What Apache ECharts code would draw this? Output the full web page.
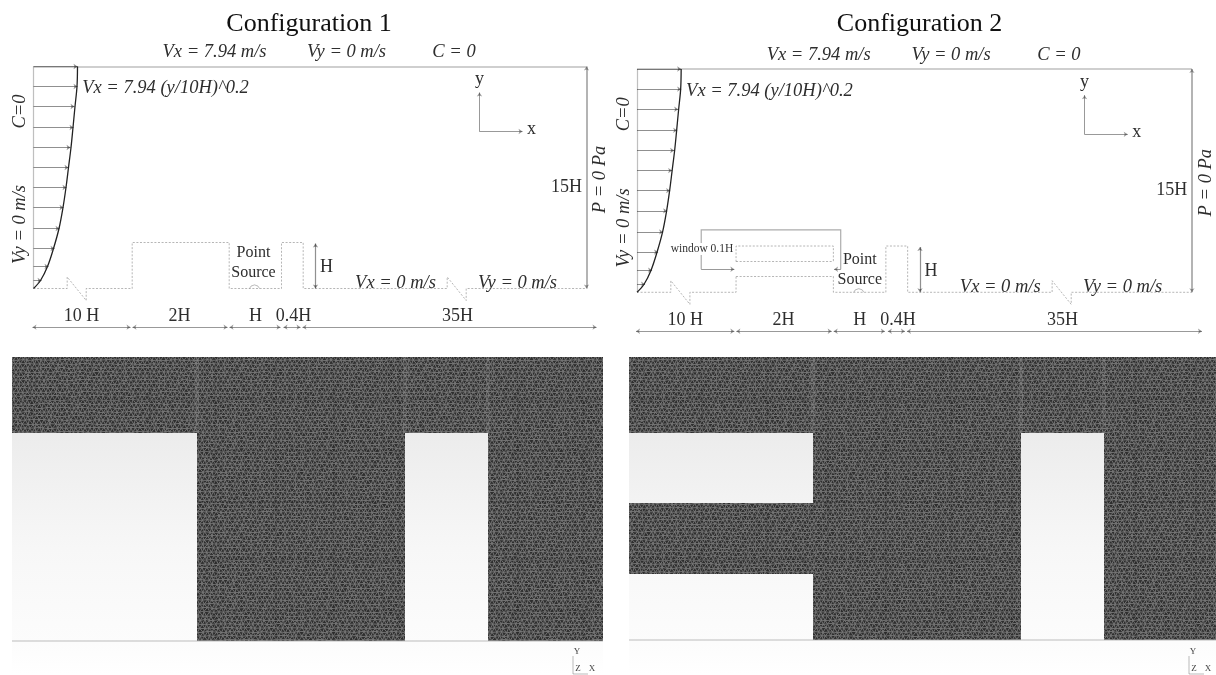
<!DOCTYPE html>
<html><head><meta charset="utf-8">
<style>html,body{margin:0;padding:0;background:#fff}#c{width:1216px;height:675px}</style>
<script src="https://cdn.jsdelivr.net/npm/echarts@6/dist/echarts.min.js"></script>
</head><body><div id="c"></div>
<script>
// ---- schematic geometry (panel units) ----
const wallTop = [[33,66],[586,66]];
const wallLeft = [[33,66],[33,288]];
const wallRight = [[586,66],[586,288]];
const profile = [[77,66],[76.5,86],[74.5,106],[72.5,127],[70.5,147],[68,167],[65.5,187],[62.5,207],[58.5,228],[53,248],[47,266],[40,280],[33,288]];
const inflowY = [66,86,106,127,147,167,187,207,228,248,266,280];
const inflowTip = [77,77,74,73,70,68,66,63,59,54,48,41];
const floorPath1 = [[[33,288],[66.7,288],[66.7,276.5],[85.7,300],[85.7,288],[131.7,288],[131.7,242],[228.7,242],[228.7,288],[281,288],[281,242],[302.7,242],[302.7,288],[446.7,288],[446.7,276.5],[465.7,300],[465.7,288],[586,288]]];
const floorPath2 = [
  [[33,288],[66.7,288],[66.7,276.5],[85.7,300],[85.7,288],[131.7,288],[131.7,272.1]],
  [[131.7,257.6],[131.7,242],[228.7,242],[228.7,257.6]],
  [[228.7,272.1],[228.7,288],[281,288],[281,242],[302.7,242],[302.7,288],[446.7,288],[446.7,276.5],[465.7,300],[465.7,288],[586,288]]
];
const sourceArc = [[249,288],[250.5,285.6],[254,284.4],[257.5,285.6],[259,288]];
const dimSpans = [[32,130],[132,227],[229,280],[283,300],[302,596]];
const dimY = 326.7;
const heightDim = [[315,243],[315,288]];
const axisY = [[479,131],[479,92]];
const axisX = [[479,131],[522,131]];
const labels = [
  ['Vx = 7.94 m/s',214,52,18.5,1,0],['Vy = 0 m/s',346,52,18.5,1,0],['C = 0',453.5,52,18.5,1,0],
  ['Vx = 7.94 (y/10H)^0.2',165,88,18.5,1,0],['Vy = 0 m/s',20,224,18.5,1,90],['C=0',20,111,18.5,1,90],
  ['10 H',81,316,18,0,0],['2H',179,316,18,0,0],['H',255,316,18,0,0],['0.4H',293,316,18,0,0],['35H',457,316,18,0,0],
  ['H',326,267,18,0,0],['15H',566,187,18,0,0],['P = 0 Pa',600,179,18.5,1,90],['y',479,79,18,0,0],['x',531,129,18,0,0],
  ['Vx = 0 m/s',395,283,18.5,1,0],['Vy = 0 m/s',517,283,18.5,1,0]
];
const titles = ['Configuration 1','Configuration 2'];
const titleX = [308.5,314.5];
const titleY = [24,21.3];
const pointSource = [[253,252,272],[255,255.9,275.7]];
// configuration 2 only (panel units of that panel)
const windowBracket = [[97,265.1],[97,226],[236,226],[236,265.1]];
const bracketTips = [[[97,265.1],[130,265.1]],[[236,265.1],[229.4,265.1]]];
const windowEdges = [[[131.7,257.6],[228.7,257.6]],[[131.7,272.1],[228.7,272.1]]];
const windowLabel = ['window 0.1H',97.7,244.9,11.5];
// ---- mesh views (page pixels) ----
const meshRects = [[12,357,603,433],[197,433,405,641],[488,433,603,641],
  [629,357,1216,433],[813,433,1021,640],[1104,433,1216,640],[629,503,813,574]];
const seams = [[197,357,433],[405,357,433],[488,357,433],[813,357,433],[1021,357,433],[1104,357,433]];
const viewRects = [[12,357,603,675],[629,357,1216,675]];
const floors = [[[12,641],[603,641]],[[629,640],[1216,640]]];
const triads = [[573,656,573,674,588,674],[1189,656,1189,674,1204,674]];
const triadText = [['Y',577,652],['Z',578,669],['X',592,669],['Y',1193,652],['Z',1194,669],['X',1208,669]];

// --- mesh texture tile: jittered triangular lattice (deterministic) ---
function meshTile(){
  const a=4.6,h=4.0,nx=40,ny=40;
  const cv=document.createElement('canvas');cv.width=Math.round(a*nx);cv.height=Math.round(h*ny);
  const W=cv.width,H=cv.height,ax=W/nx,ay=H/ny,c=cv.getContext('2d');
  const hs=(i,j,k)=>{const s=Math.sin(((i+nx)%nx)*12.9898+((j+ny)%ny)*78.233+k*37.719)*43758.5453;return s-Math.floor(s);};
  const P=(i,j)=>[i*ax+(((j%2)+2)%2)*ax/2+(hs(i,j,1)-.5)*1.7,j*ay+(hs(i,j,2)-.5)*1.5];
  c.fillStyle='#2e2e2e';c.fillRect(0,0,W,H);
  c.strokeStyle='#7a7a7a';c.lineWidth=.9;
  for(let j=-1;j<=ny;j++)for(let i=-1;i<=nx;i++){
    const p=P(i,j),q=P(i+1,j),odd=((j%2)+2)%2,r=P(i+odd,j+1),s=P(i+odd-1,j+1);
    c.beginPath();c.moveTo(p[0],p[1]);c.lineTo(q[0],q[1]);c.moveTo(p[0],p[1]);c.lineTo(r[0],r[1]);c.moveTo(p[0],p[1]);c.lineTo(s[0],s[1]);c.stroke();
  }
  c.strokeStyle='rgba(20,20,20,.2)';c.lineWidth=1;
  [31,92,150].forEach(x=>{c.beginPath();c.moveTo(x,0);c.lineTo(x,H);c.stroke();});
  [22,80,131].forEach(y=>{c.beginPath();c.moveTo(0,y);c.lineTo(W,y);c.stroke();});
  return cv;
}
const tile = meshTile();
const ink='#2e2e2e', wallGray='#808080', dash='#6e6e6e';

function seg(coords,color,width,type,sym,size){return {coords:coords,lineStyle:{color:color,width:width,type:type||'solid'},symbol:sym||['none','none'],symbolSize:size||6};}
function linesSeries(i,list){
  return list.map(l=>({type:'lines',coordinateSystem:'cartesian2d',xAxisIndex:i,yAxisIndex:i,polyline:l.coords.length>2,silent:true,z:4,
    symbol:l.symbol,symbolSize:l.symbolSize,lineStyle:l.lineStyle,data:[{coords:l.coords}]}));
}
function textSeries(i,rows){
  return {type:'custom',coordinateSystem:'cartesian2d',xAxisIndex:i,yAxisIndex:i,silent:true,z:6,clip:false,
    data:rows.map((r,k)=>[r[1],r[2],k]),encode:{x:0,y:1},
    renderItem:(p,api)=>{const r=rows[api.value(2)],pt=api.coord([api.value(0),api.value(1)]);
      return {type:'text',x:pt[0],y:pt[1],rotation:(r[5]||0)*Math.PI/180,
        style:{text:r[0],x:0,y:0,align:'center',verticalAlign:'middle',fill:r[6]||ink,backgroundColor:r[7]||undefined,
          font:(r[4]?'italic ':'')+r[3]+'px "Liberation Serif","Times New Roman",serif'}};}};
}
function panelSeries(i){
  const arrowBoth=['arrow','arrow'],arrowEnd=['none','arrow'],dotted=[2,1.6];
  const list=[
    seg(wallTop,wallGray,1.6),seg(wallLeft,wallGray,1.2),seg(wallRight,'#444',1.6,'solid',arrowBoth,4),
    seg(sourceArc,'#777',1),
    seg(heightDim,'#222',1.2,'solid',arrowBoth,4),seg(axisY,'#333',1,'solid',arrowEnd,4),seg(axisX,'#333',1,'solid',arrowEnd,4)
  ];
  (i===0?floorPath1:floorPath2).forEach(f=>list.push(seg(f,dash,1,dotted)));
  inflowY.forEach((y,k)=>list.push(seg([[33,y],[inflowTip[k],y]],'#222',1,'solid',arrowEnd,4)));
  dimSpans.forEach(s=>list.push(seg([[s[0],dimY],[s[1],dimY]],'#333',1,'solid',arrowBoth,4)));
  if(i===1){
    list.push(seg(windowBracket,'#5a5a5a',1.2));
    bracketTips.forEach(b=>list.push(seg(b,'#333',1.2,'solid',arrowEnd,4)));
    windowEdges.forEach(e=>list.push(seg(e,dash,1,dotted)));
  }
  const ps=pointSource[i];
  const rows=labels.concat([['Point',ps[0],ps[1],16,0,0],['Source',ps[0],ps[2],16,0,0],[titles[i],titleX[i],titleY[i],26,0,0,'#111']]);
  if(i===1) rows.push([windowLabel[0],windowLabel[1],windowLabel[2],windowLabel[3],0,0,'#333','#fff']);
  return linesSeries(i,list).concat([
    {type:'line',xAxisIndex:i,yAxisIndex:i,data:profile,smooth:.35,showSymbol:false,silent:true,z:5,lineStyle:{color:'#222',width:1.3}},
    textSeries(i,rows)
  ]);
}
function rectSeries(rows,z,styleFn){
  return {type:'custom',coordinateSystem:'cartesian2d',xAxisIndex:2,yAxisIndex:2,silent:true,z:z,clip:false,
    data:rows.map(r=>[r[0],r[1],r[2],r[3]]),encode:{x:[0,2],y:[1,3]},
    renderItem:(p,api)=>{const a=api.coord([api.value(0),api.value(1)]),b=api.coord([api.value(2),api.value(3)]);
      return {type:'rect',shape:{x:a[0],y:a[1],width:b[0]-a[0],height:b[1]-a[1]},style:styleFn(a,b)};}};
}
const viewSeries=rectSeries(viewRects,1,(a,b)=>({fill:new echarts.graphic.LinearGradient(0,0,0,1,[
  {offset:0,color:'#e6e6e6'},{offset:.24,color:'#ececec'},{offset:.6,color:'#f7f7f7'},{offset:.9,color:'#fcfcfc'},{offset:1,color:'#ffffff'}])}));
const meshSeries=rectSeries(meshRects,2,()=>({fill:{image:tile,repeat:'repeat'}}));
const seamSeries=rectSeries(seams.map(s=>[s[0]-2,s[1],s[0]+2,s[2]]),3,()=>({fill:'rgba(200,200,200,.12)'}));
const floorSeries=floors.map(f=>({type:'lines',coordinateSystem:'cartesian2d',xAxisIndex:2,yAxisIndex:2,polyline:true,silent:true,z:3,
  lineStyle:{color:'#a8a8a8',width:1.5},data:[{coords:f}]}));
const triadSeries=triads.map(t=>({type:'lines',coordinateSystem:'cartesian2d',xAxisIndex:2,yAxisIndex:2,polyline:true,silent:true,z:4,
  lineStyle:{color:'#777',width:1},data:[{coords:[[t[0],t[1]],[t[2],t[3]],[t[4],t[5]]]}]}));
const triadLabels=textSeries(2,triadText.map(t=>[t[0],t[1],t[2],9,0,0,'#444']));

const axisOff=(i,max,inv)=>({show:false,type:'value',gridIndex:i,min:0,max:max,inverse:inv});
const option={animation:false,backgroundColor:'#fff',
  grid:[{left:.5,top:.5,width:610,height:340},{left:603.9,top:2.6,width:612.2,height:342},{left:0,top:0,width:1216,height:675}],
  xAxis:[axisOff(0,610,false),axisOff(1,610,false),axisOff(2,1216,false)],
  yAxis:[axisOff(0,340,true),axisOff(1,340,true),axisOff(2,675,true)],
  series:[].concat(panelSeries(0),panelSeries(1),[viewSeries,meshSeries,seamSeries],floorSeries,triadSeries,[triadLabels])
};
echarts.init(document.getElementById('c'),null,{renderer:'canvas'}).setOption(option);
</script></body></html>
